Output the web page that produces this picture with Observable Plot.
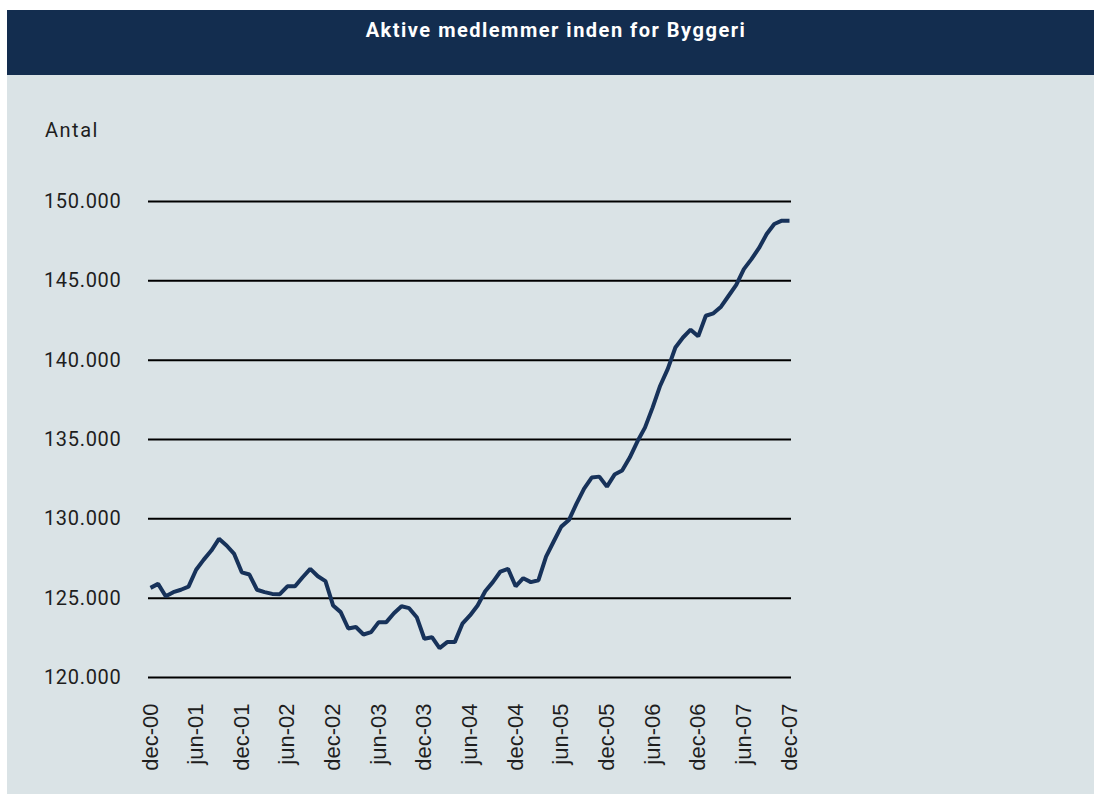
<!DOCTYPE html>
<html>
<head>
<meta charset="utf-8">
<script src="https://cdn.jsdelivr.net/npm/d3@7"></script>
<script src="https://cdn.jsdelivr.net/npm/@observablehq/plot@0.6"></script>
<style>
  html, body { margin: 0; padding: 0; background: #ffffff; }
  #page { position: relative; width: 1094px; height: 796px; overflow: hidden; }
  #panel { position: absolute; left: 7px; top: 10px; width: 1087px; height: 784px; background: #dae3e6; }
  #header { position: absolute; left: 7px; top: 10px; width: 1087px; height: 65px; background: #132d4f; }
  #title { position: absolute; left: 18px; width: 1076px; top: 18px; text-align: center;
           font-family: Roboto, "DejaVu Sans", sans-serif; font-weight: bold; font-size: 20px; letter-spacing: 1.5px;
           line-height: 24px; color: #ffffff; }
  #ylabel { position: absolute; left: 45px; top: 120px; font-family: Roboto, sans-serif; font-size: 20px; line-height: 20px;
            letter-spacing: 1.5px; color: #1e1e1e; }
  #chart { position: absolute; left: 0; top: 0; }
  #chart svg g[aria-label="y-axis tick label"] text { letter-spacing: 0.7px; }
</style>
</head>
<body>
<div id="page">
  <div id="panel"></div>
  <div id="header"></div>
  <div id="title">Aktive medlemmer inden for Byggeri</div>
  <div id="ylabel">Antal</div>
  <div id="chart"></div>
</div>
<script>
// Monthly values, dec-00 (index 0) to dec-07 (index 84)
const members = [
  125650, 125900, 125120, 125375, 125530, 125730, 126790, 127430, 128000, 128740,
  128320, 127790, 126630, 126490, 125530, 125380, 125270, 125250, 125750, 125750,
  126320, 126850, 126380, 126070, 124540, 124120, 123090, 123180, 122710, 122860,
  123490, 123490, 124050, 124490, 124370, 123800, 122440, 122540, 121850, 122230,
  122230, 123390, 123910, 124540, 125440, 126010, 126680, 126850, 125750, 126260,
  126010, 126130, 127620, 128570, 129510, 129920, 130960, 131910, 132600, 132660,
  132030, 132790, 133040, 133860, 134870, 135750, 137010, 138390, 139450, 140800,
  141430, 141920, 141500, 142800, 142950, 143370, 144060, 144750, 145740, 146370,
  147070, 147950, 148580, 148790, 148790
];
const tickMonths = [0, 6, 12, 18, 24, 30, 36, 42, 48, 54, 60, 66, 72, 78, 84];
const tickLabels = ["dec-00", "jun-01", "dec-01", "jun-02", "dec-02", "jun-03", "dec-03", "jun-04",
                    "dec-04", "jun-05", "dec-05", "jun-06", "dec-06", "jun-07", "dec-07"];
const yTicks = [120000, 125000, 130000, 135000, 140000, 145000, 150000];

const data = members.map((v, i) => ({i, v}));
const fmt = d3.formatLocale({decimal: ",", thousands: ".", grouping: [3], currency: ["", ""]}).format(",");

const chart = Plot.plot({
  width: 1094,
  height: 796,
  marginLeft: 148,
  marginRight: 303,
  marginTop: 201,
  marginBottom: 119,
  style: {background: "transparent", color: "#1e1e1e", overflow: "visible"},
  x: {domain: [0, 84], insetLeft: 2, insetRight: 2},
  y: {domain: [120000, 150000]},
  marks: [
    Plot.ruleY(yTicks, {stroke: "#000000", strokeWidth: 2}),
    Plot.lineY(data, {x: "i", y: "v", stroke: "#17325a", strokeWidth: 4, strokeLinejoin: "miter", strokeLinecap: "butt"}),
    Plot.axisX({ticks: tickMonths, tickFormat: i => tickLabels[tickMonths.indexOf(i)], tickRotate: -90,
                tickSize: 0, tickPadding: 26, fontSize: 22, fontFamily: "'Liberation Sans', Arial, sans-serif", label: null}),
    Plot.axisY({ticks: yTicks, tickFormat: fmt, tickSize: 0, tickPadding: 27,
                fontSize: 20, fontFamily: "Roboto, sans-serif", label: null})
  ]
});
document.getElementById("chart").appendChild(chart);
</script>
</body>
</html>
